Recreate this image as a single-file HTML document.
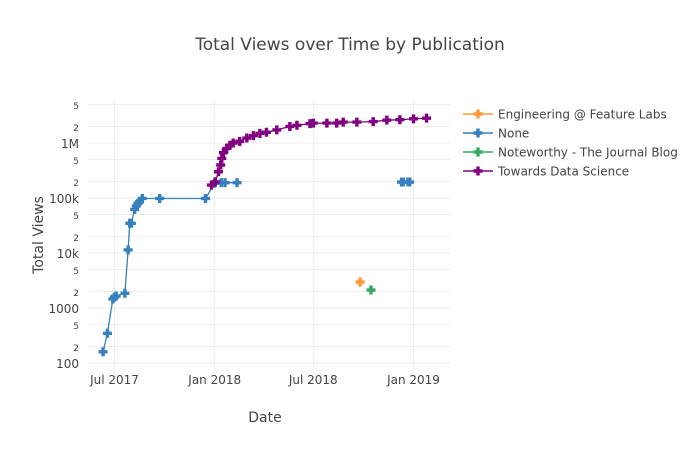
<!DOCTYPE html>
<html><head><meta charset="utf-8"><style>
body{margin:0;background:#fff;}
svg text{font-family:"DejaVu Sans","Liberation Sans",sans-serif;fill:#444;}
</style></head><body>
<svg id="chart" width="700" height="450" xmlns="http://www.w3.org/2000/svg">
<rect width="700" height="450" fill="#fff"/>
<text x="350" y="50" text-anchor="middle" font-size="17">Total Views over Time by Publication</text>
<g id="grid"></g><g id="axes"></g><g id="series"></g><g id="legend"></g>
<text transform="translate(43,235) rotate(-90)" text-anchor="middle" font-size="14">Total Views</text>
<text x="265" y="422" text-anchor="middle" font-size="14">Date</text>
</svg>
<script>
const seriesNames = ["Engineering @ Feature Labs","None","Noteworthy - The Journal Blog","Towards Data Science"];
const seriesColors = ["rgb(255,153,51)","rgb(55,128,191)","rgb(50,171,96)","rgb(128,0,128)"];
const engDates = ["2018-09-25"];
const engViews = [2970];
const noneDates = ["2017-06-10","2017-06-18","2017-06-28","2017-07-01","2017-07-04","2017-07-20","2017-07-26","2017-07-29","2017-08-01","2017-08-07","2017-08-10","2017-08-13","2017-08-16","2017-08-21","2017-09-22","2017-12-15","2018-01-01","2018-01-13","2018-01-20","2018-02-11",null,"2018-12-10","2018-12-13","2018-12-22","2018-12-25"];
const noneViews = [160,347,1460,1580,1650,1850,11350,34700,34700,62000,71600,80000,85000,98000,98000,98000,185000,190000,190000,190000,null,195000,195000,195000,195000];
const noteDates = ["2018-10-15"];
const noteViews = [2120];
const tdsDates = ["2017-12-26","2018-01-02","2018-01-08","2018-01-12","2018-01-14","2018-01-17","2018-01-23","2018-01-29","2018-02-04","2018-02-16","2018-03-01","2018-03-13","2018-03-25","2018-04-06","2018-04-25","2018-05-19","2018-06-01","2018-06-25","2018-07-01","2018-07-26","2018-08-13","2018-08-25","2018-09-19","2018-10-19","2018-11-13","2018-12-07","2019-01-01","2019-01-25"];
const tdsViews = [172000,197000,300000,398000,525000,667000,795000,912000,1000000,1070000,1230000,1360000,1500000,1570000,1730000,2000000,2100000,2250000,2300000,2300000,2300000,2400000,2400000,2450000,2600000,2650000,2750000,2830000];
const xTickDates = ["2017-07-01","2018-01-01","2018-07-01","2019-01-01"];
const xTickLabels = ["Jul 2017","Jan 2018","Jul 2018","Jan 2019"];
const yTickValues = [100,200,500,1000,2000,5000,10000,20000,50000,100000,200000,500000,1000000,2000000,5000000];
const yTickLabels = ["100","2","5","1000","2","5","10k","2","5","100k","2","5","1M","2","5"];

const NS="http://www.w3.org/2000/svg";
const PL=88,PR=450,PT=100,PB=375;
const t0=Date.parse("2017-07-01"),t1=Date.parse("2019-01-01");
function xScale(d){return 114.5+(Date.parse(d)-t0)/(t1-t0)*299;}
function yScale(v){return 363-55*(Math.log10(v)-2);}
function mk(tag,attrs,parent){const e=document.createElementNS(NS,tag);for(const k in attrs)e.setAttribute(k,attrs[k]);parent.appendChild(e);return e;}
const grid=document.getElementById('grid'),axes=document.getElementById('axes'),ser=document.getElementById('series'),leg=document.getElementById('legend');
yTickValues.forEach((v,i)=>{const y=yScale(v);
 const l=mk('line',{x1:PL,x2:PR,y1:y,y2:y,stroke:'#eee','stroke-width':1},grid);
 
 
 const major=yTickLabels[i].length>1;
 const t=mk('text',{x:79,y:y+(major?5:4.5),'text-anchor':'end','font-size':major?12:9},axes);
 t.textContent=yTickLabels[i];
 
 
});
xTickDates.forEach((d,i)=>{const x=xScale(d);
 const l=mk('line',{x1:x,x2:x,y1:PT,y2:PB,stroke:'#eee','stroke-width':1},grid);
 
 
 const t=mk('text',{x:x,y:384,'text-anchor':'middle','font-size':12},axes);
 t.textContent=xTickLabels[i];
 
 
});
function cross(x,y,c,parent){const a=4.5,w=1.7;
 const p=mk('path',{d:`M${x-w},${y-a}H${x+w}V${y-w}H${x+a}V${y+w}H${x+w}V${y+a}H${x-w}V${y+w}H${x-a}V${y-w}H${x-w}Z`,fill:c},parent);
 return p;}
const all=[[engDates,engViews],[noneDates,noneViews],[noteDates,noteViews],[tdsDates,tdsViews]];
all.forEach(([ds,vs],si)=>{const c=seriesColors[si];
 const g=mk('g',{},ser);
 
 
 let d='',pen=false;
 ds.forEach((dt,i)=>{if(dt===null){pen=false;return;}d+=(pen?'L':'M')+xScale(dt)+','+yScale(vs[i]);pen=true;});
 const ln=mk('path',{d:d,fill:'none',stroke:c,'stroke-width':1.3},g);
 
 
 ds.forEach((dt,i)=>{if(dt===null)return;const m=cross(xScale(dt),yScale(vs[i]),c,g);
  
  });
});
seriesNames.forEach((n,i)=>{const y=114+i*19;
 const g=mk('g',{},leg);
 
 
 mk('line',{x1:463,x2:493,y1:y,y2:y,stroke:seriesColors[i],'stroke-width':1.5},g);
 cross(478,y,seriesColors[i],g);
 const t=mk('text',{x:498,y:y+4.5,'font-size':12},g);
 t.textContent=n;
});
</script>
</body></html>
